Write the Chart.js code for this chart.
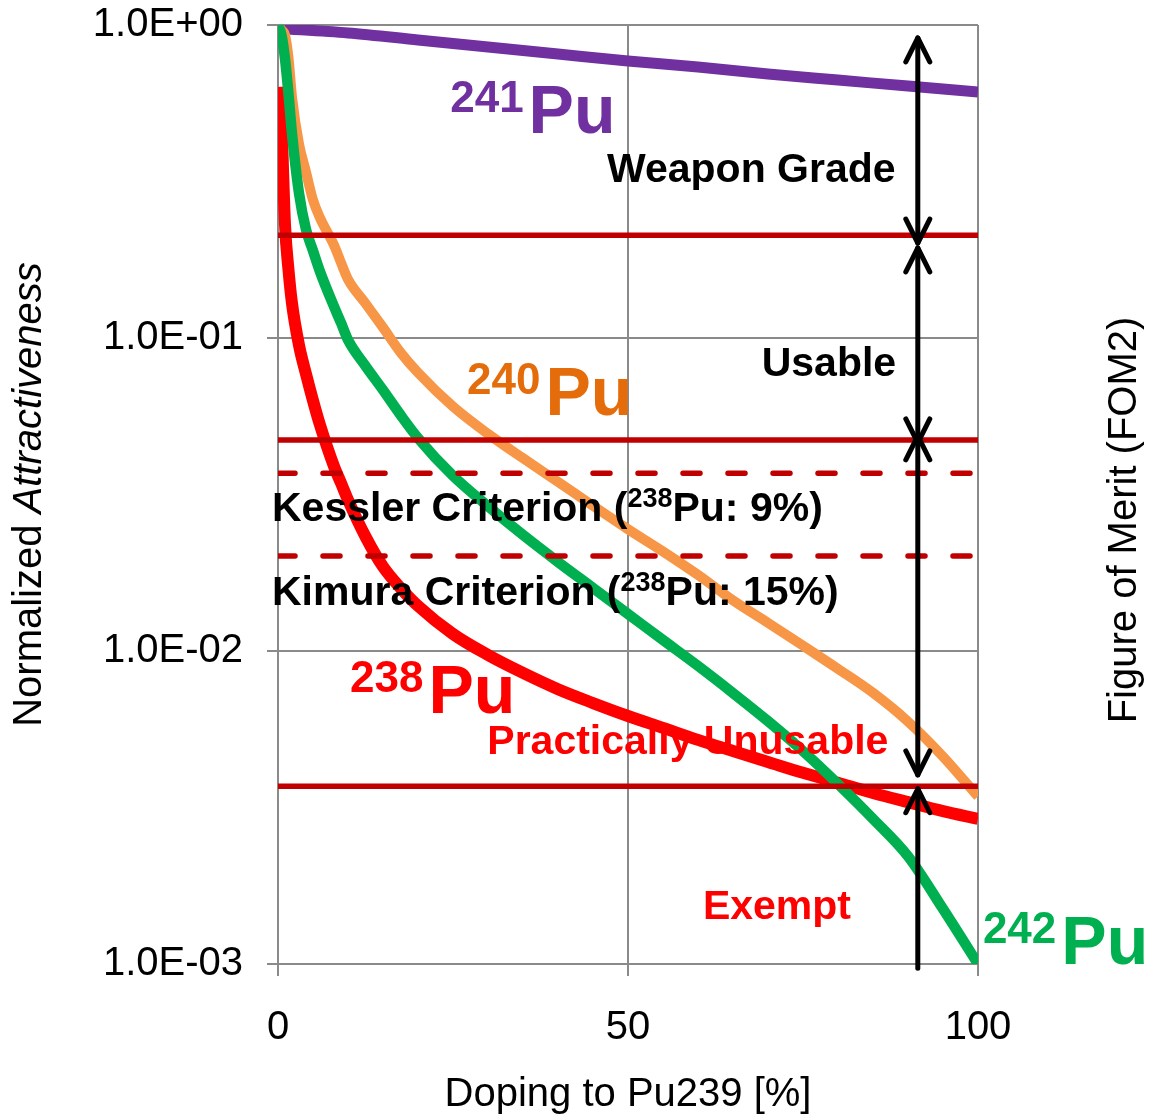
<!DOCTYPE html>
<html><head><meta charset="utf-8">
<script src="https://cdn.jsdelivr.net/npm/chart.js@4"></script>
<style>html,body{margin:0;padding:0;background:#fff}#wrap{width:1153px;height:1120px;position:relative}</style>
</head><body><div id="wrap"><canvas id="c"></canvas></div>
<script>
// ---- data ----
const xPct   = [0,0.5,1,1.5,2,3,4,5,6,8,9,10,12.5,15,17.5,20,25,30,35,40,45,50,55,60,65,70,75,80,85,90,95,100];
const pu238  = [0.634,0.47,0.23,0.165,0.129,0.0948,0.0767,0.0631,0.0527,0.0389,0.0344,0.0304,0.0232,0.0186,0.0159,0.01393,0.01133,0.00971,0.00851,0.00755,0.00682,0.0062,0.00568,0.0052,0.00479,0.00442,0.00408,0.00379,0.00352,0.00329,0.00308,0.00291];
const pu240  = [1.0,0.964,0.929,0.785,0.589,0.417,0.339,0.276,0.242,0.198,0.174,0.154,0.129,0.108,0.090,0.0775,0.0604,0.0494,0.0413,0.0347,0.0291,0.0245,0.0208,0.0175,0.0145,0.0123,0.0104,0.00877,0.00735,0.00595,0.0046,0.00343];
const pu242  = [1.0,0.929,0.779,0.602,0.45,0.29,0.222,0.19,0.163,0.126,0.1118,0.0986,0.0814,0.0682,0.0568,0.0479,0.0363,0.029,0.02348,0.01925,0.0159,0.01313,0.01084,0.00896,0.00734,0.00597,0.00479,0.00376,0.00291,0.00221,0.0015,0.001];
const pu241X = [0,10,20,30,40,50,60,70,80,90,100];
const pu241  = [0.975,0.943,0.896,0.851,0.808,0.767,0.734,0.697,0.667,0.638,0.611];
const levelX = [0,100];
const weaponLevel = [0.213,0.213];
const usableLevel = [0.0472,0.0472];
const unusableLevel = [0.0037,0.0037];
const kesslerLevel = [0.037,0.037];
const kimuraLevel = [0.0201,0.0201];
const xTicks = [0,50,100];
const yTickValues = [0.001,0.01,0.1,1];
const yTickLabels = ['1.0E-03','1.0E-02','1.0E-01','1.0E+00'];

// ---- annotations (data coordinates) ----
const arrowX = 91.4;
// [top tip value, bottom tip value, head at top, head at bottom]
const arrows = [[0.909,0.201,true,true],[0.194,0.0462,true,true],[0.0487,0.00402,true,true],[0.00363,0.00097,true,false]];
const isoLabels = [
  {sup:'241', main:'Pu', color:'#7030A0', x:24.6, y:0.452},
  {sup:'240', main:'Pu', color:'#E46C0A', x:27.0, y:0.0568},
  {sup:'238', main:'Pu', color:'#FF0000', x:10.3, y:0.00636},
  {sup:'242', main:'Pu', color:'#00B050', x:100.7, y:0.00100}
];
const regionLabels = [
  {parts:[['Weapon Grade',0]], color:'#000000', x:47.0, y:0.315},
  {parts:[['Usable',0]], color:'#000000', x:69.1, y:0.0755},
  {parts:[['Kessler Criterion (',0],['238',1],['Pu: 9%)',0]], color:'#000000', x:-0.86, y:0.026},
  {parts:[['Kimura Criterion (',0],['238',1],['Pu: 15%)',0]], color:'#000000', x:-0.86, y:0.014},
  {parts:[['Practically Unusable',0]], color:'#FF0000', x:29.9, y:0.00469},
  {parts:[['Exempt',0]], color:'#FF0000', x:60.7, y:0.00139}
];

const FF = "'Liberation Sans', Arial, sans-serif";
const mk = (xs, ys) => xs.map((x, i) => ({x, y: ys[i]}));

const annot = {
  id: 'annot',
  afterDatasetsDraw(chart) {
    const {ctx, scales: {x, y}} = chart;
    ctx.save();
    ctx.strokeStyle = '#000'; ctx.lineWidth = 5; ctx.lineCap = 'round'; ctx.lineJoin = 'round';
    const px = x.getPixelForValue(arrowX);
    arrows.forEach(a => {
      const y1 = y.getPixelForValue(a[0]), y2 = y.getPixelForValue(a[1]);
      ctx.beginPath(); ctx.moveTo(px, y1); ctx.lineTo(px, y2); ctx.stroke();
      if (a[2]) { ctx.beginPath(); ctx.moveTo(px - 12, y1 + 24); ctx.lineTo(px, y1); ctx.lineTo(px + 12, y1 + 24); ctx.stroke(); }
      if (a[3]) { ctx.beginPath(); ctx.moveTo(px - 12, y2 - 24); ctx.lineTo(px, y2); ctx.lineTo(px + 12, y2 - 24); ctx.stroke(); }
    });
    ctx.textAlign = 'left'; ctx.textBaseline = 'alphabetic';
    isoLabels.forEach(l => {
      let cx = x.getPixelForValue(l.x); const cy = y.getPixelForValue(l.y);
      ctx.fillStyle = l.color;
      ctx.font = 'bold 44px ' + FF; ctx.fillText(l.sup, cx, cy - 21);
      cx += ctx.measureText(l.sup).width + 5;
      ctx.font = 'bold 68px ' + FF; ctx.fillText(l.main, cx, cy);
    });
    regionLabels.forEach(l => {
      let cx = x.getPixelForValue(l.x); const cy = y.getPixelForValue(l.y);
      ctx.fillStyle = l.color;
      l.parts.forEach(p => {
        if (p[1]) { ctx.font = 'bold 27px ' + FF; ctx.fillText(p[0], cx, cy - 14); }
        else { ctx.font = 'bold 41px ' + FF; ctx.fillText(p[0], cx, cy); }
        cx += ctx.measureText(p[0]).width;
      });
    });
    ctx.restore();
  },
  afterDraw(chart) {
    const {ctx, chartArea} = chart;
    ctx.save();
    ctx.fillStyle = '#000'; ctx.textBaseline = 'middle'; ctx.textAlign = 'left';
    ctx.translate(30, (chartArea.top + chartArea.bottom) / 2);
    ctx.rotate(-Math.PI / 2);
    ctx.font = '40px ' + FF; const w1 = ctx.measureText('Normalized ').width;
    ctx.font = 'italic 40px ' + FF; const w2 = ctx.measureText('Attractiveness').width;
    const s = -(w1 + w2) / 2;
    ctx.font = '40px ' + FF; ctx.fillText('Normalized ', s, 0);
    ctx.font = 'italic 40px ' + FF; ctx.fillText('Attractiveness', s + w1, 0);
    ctx.restore();
    ctx.save();
    ctx.fillStyle = '#000'; ctx.textBaseline = 'middle'; ctx.textAlign = 'center';
    ctx.translate(1125, 520); ctx.rotate(-Math.PI / 2);
    ctx.font = '40px ' + FF; ctx.fillText('Figure of Merit (FOM2)', 0, 0);
    ctx.restore();
  }
};

const lvl = (data, dash) => ({data: mk(levelX, data), borderColor: '#C00000', borderWidth: 5.5, borderDash: dash ? [17, 28] : [], borderCapStyle: dash ? 'round' : 'butt', order: 0, pointRadius: 0, showLine: true});
const curve = (xs, ys, color, w, order) => ({data: mk(xs, ys), borderColor: color, borderWidth: w, order, pointRadius: 0, showLine: true, cubicInterpolationMode: 'monotone', borderCapStyle: 'butt', borderJoinStyle: 'round'});

new Chart(document.getElementById('c'), {
  type: 'scatter',
  data: {
    datasets: [
      lvl(weaponLevel, false), lvl(usableLevel, false), lvl(unusableLevel, false),
      lvl(kesslerLevel, true), lvl(kimuraLevel, true),
      curve(xPct, pu242, '#00B050', 10.5, 1),
      curve(xPct, pu238, '#FF0000', 12, 2),
      curve(xPct, pu240, '#F79646', 10, 3),
      curve(pu241X, pu241, '#7030A0', 11, 4)
    ]
  },
  options: {
    responsive: true, maintainAspectRatio: false, animation: false,
    layout: {padding: {left: 0, right: 175, top: 25, bottom: 0}},
    plugins: {legend: {display: false}, tooltip: {enabled: false}},
    scales: {
      x: {
        type: 'linear', min: 0, max: 100,
        afterBuildTicks: s => { s.ticks = xTicks.map(v => ({value: v})); },
        afterFit: s => { s.height = 156; s.paddingLeft = 0; s.paddingRight = 0; },
        ticks: {color: '#000', font: {family: FF, size: 40}, padding: 28},
        grid: {color: '#8a8a8a', lineWidth: 2, tickLength: 12},
        border: {color: '#8a8a8a', width: 2},
        title: {display: true, text: 'Doping to Pu239 [%]', color: '#000', font: {family: FF, size: 40}, padding: {top: 0, bottom: 1}}
      },
      y: {
        type: 'logarithmic', min: 0.001, max: 1,
        afterBuildTicks: s => { s.ticks = yTickValues.map(v => ({value: v})); },
        afterFit: s => { s.width = 278; s.paddingTop = 0; s.paddingBottom = 0; },
        ticks: {color: '#000', font: {family: FF, size: 40}, padding: 24,
          callback: v => { const i = yTickValues.findIndex(t => Math.abs(Math.log10(t) - Math.log10(v)) < 1e-6); return i >= 0 ? yTickLabels[i] : ''; }},
        grid: {color: '#8a8a8a', lineWidth: 2, tickLength: 11},
        border: {color: '#8a8a8a', width: 2}
      }
    }
  },
  plugins: [annot]
});
</script></body></html>
